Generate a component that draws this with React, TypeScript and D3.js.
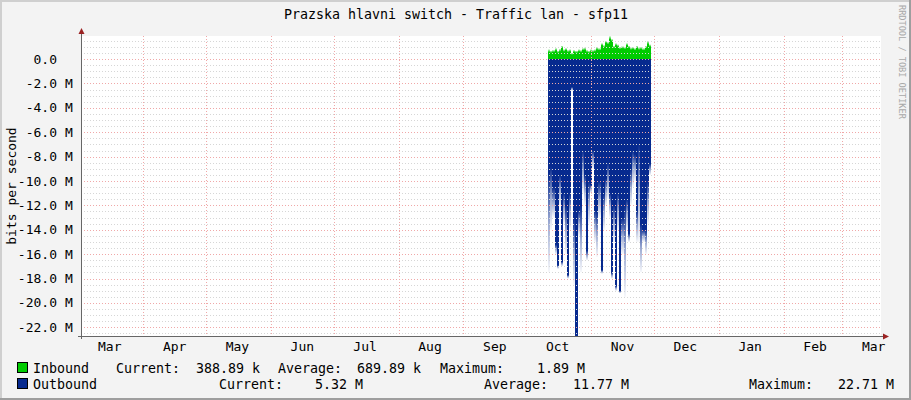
import React from 'react';
import * as d3 from 'd3';

const WIDTH = 911;
const HEIGHT = 400;

const title = 'Prazska hlavni switch - Traffic lan - sfp11';
const yAxisTitle = 'bits per second';
const watermark = 'RRDTOOL / TOBI OETIKER';

const monthLabels = ['Mar', 'Apr', 'May', 'Jun', 'Jul', 'Aug', 'Sep', 'Oct', 'Nov', 'Dec', 'Jan', 'Feb', 'Mar'];
const yTickValues = [0, -2, -4, -6, -8, -10, -12, -14, -16, -18, -20, -22];
const yTickNumbers = ['0.0', '-2.0', '-4.0', '-6.0', '-8.0', '-10.0', '-12.0', '-14.0', '-16.0', '-18.0', '-20.0', '-22.0'];
const yTickUnits = ['', 'M', 'M', 'M', 'M', 'M', 'M', 'M', 'M', 'M', 'M', 'M'];

// daily samples starting Oct 11 (values in Mbit/s)
const firstDay = new Date(2022, 9, 11, 12);
const inboundAvg = [
  0.55, 0.5, 0.55, 0.68, 0.5, 0.6, 0.9, 0.6, 0.7, 0.55,
  0.6, 0.35, 0.55, 0.5, 0.6, 0.55, 0.7, 0.72, 0.55, 0.5,
  0.6, 0.55, 0.6, 0.75, 0.7, 1.1, 0.95, 1.3, 1.2, 1.6,
  1.45, 0.9, 1.1, 1.0, 0.8, 0.85, 0.8, 1.1, 0.9, 0.75,
  0.8, 0.7, 0.9, 0.75, 0.8, 0.7, 0.9, 1.2, 1.0,
];
const inboundMax = [
  0.8, 0.7, 0.75, 0.9, 0.7, 0.85, 1.1, 0.8, 0.9, 0.75,
  0.8, 0.5, 0.75, 0.7, 0.8, 0.75, 0.9, 0.95, 0.75, 0.7,
  0.8, 0.75, 0.8, 1.0, 0.9, 1.3, 1.15, 1.5, 1.4, 1.89,
  1.65, 1.1, 1.3, 1.2, 1.0, 1.05, 1.0, 1.3, 1.1, 0.95,
  1.0, 0.9, 1.1, 0.95, 1.0, 0.9, 1.1, 1.5, 1.2,
];
const outboundAvg = [
  9.3, 8.8, 10.5, 15.2, 16.9, 9.5, 16.6, 11.0, 12.0, 17.7,
  11.0, 2.3, 13.0, 22.71, 12.4, 12.0, 7.5, 9.5, 15.7, 10.0,
  10.3, 7.5, 12.4, 12.5, 10.0, 17.3, 11.0, 9.8, 8.5, 11.0,
  17.5, 12.0, 18.6, 11.0, 19.0, 13.0, 12.0, 11.5, 14.3, 9.0,
  7.5, 7.8, 12.4, 6.9, 13.5, 14.0, 14.0, 10.0, 8.6,
];
const outboundMax = [
  17.5, 14.0, 13.0, 16.0, 17.2, 12.0, 17.0, 13.5, 16.0, 18.0,
  14.0, 2.6, 18.5, 22.71, 14.5, 17.5, 11.0, 12.0, 16.5, 13.5,
  11.0, 9.0, 15.0, 16.2, 13.0, 17.6, 14.0, 12.0, 11.5, 13.0,
  18.0, 15.0, 19.0, 14.0, 19.2, 16.0, 19.5, 14.0, 15.0, 12.0,
  10.5, 10.0, 15.0, 15.0, 17.5, 15.0, 16.0, 13.5, 9.5,
];

const inboundLegend = ['Inbound', 'Current:', '388.89 k', 'Average:', '689.89 k', 'Maximum:', '1.89 M'];
const outboundLegend = ['Outbound', 'Current:', '5.32 M', 'Average:', '11.77 M', 'Maximum:', '22.71 M'];

const GREEN = '#00CC00';
const BLUE = '#072A8F';
const FONT = '"DejaVu Sans Mono", monospace';

export default function App() {
  const left = 81, right = 881, top = 36, bottom = 336;
  const x = d3.scaleTime()
    .domain([new Date(2022, 2, 2, 6), new Date(2023, 2, 19, 12)])
    .range([left, right]);
  const y = d3.scaleLinear().domain([-22.71, 1.89]).range([bottom, top]);

  const monthLines = d3.timeMonth.range(new Date(2022, 3, 1), new Date(2023, 2, 2));
  const labelMonths = d3.timeMonth.range(new Date(2022, 2, 1), new Date(2023, 2, 2));
  const minor = d3.range(-45, 4).map(k => k * 0.5).filter(v => v % 2 !== 0 && v > -22.71 && v < 1.89);

  const days = outboundAvg.map((_, i) => d3.timeDay.offset(firstDay, i));
  const cols = days.map((d, i) => ({
    x0: x(d),
    x1: x(d3.timeDay.offset(d, 1)),
    inA: inboundAvg[i], inM: inboundMax[i],
    outA: outboundAvg[i], outM: outboundMax[i],
  }));

  const inPos = [33, 116, 196, 278, 357, 440, 537];
  const outPos = [33, 219, 315, 484, 573, 749, 838];

  return (
    <svg width={WIDTH} height={HEIGHT} style={{ position: 'absolute', left: 0, top: 0, display: 'block' }}
      fontFamily={FONT}>
      <defs>
        {cols.map((c, i) => (
          <linearGradient key={'go' + i} id={'go' + i} gradientUnits="userSpaceOnUse"
            x1={0} x2={0} y1={y(-c.outA)} y2={y(-c.outM)}>
            <stop offset="0" stopColor={BLUE} stopOpacity={1} />
            <stop offset="0.5" stopColor={BLUE} stopOpacity={0.4} />
            <stop offset="1" stopColor={BLUE} stopOpacity={0.03} />
          </linearGradient>
        ))}
        {cols.map((c, i) => (
          <linearGradient key={'gi' + i} id={'gi' + i} gradientUnits="userSpaceOnUse"
            x1={0} x2={0} y1={y(c.inA)} y2={y(c.inM)}>
            <stop offset="0" stopColor={GREEN} stopOpacity={1} />
            <stop offset="1" stopColor={GREEN} stopOpacity={0.1} />
          </linearGradient>
        ))}
      </defs>

      {/* background & frame */}
      <rect x={0} y={0} width={WIDTH} height={HEIGHT} fill="#F3F3F3" />
      <rect x={0} y={0} width={WIDTH} height={2} fill="#CFCFCF" />
      <rect x={0} y={0} width={2} height={HEIGHT} fill="#CFCFCF" />
      <rect x={0} y={HEIGHT - 2} width={WIDTH} height={2} fill="#9E9E9E" />
      <rect x={WIDTH - 2} y={0} width={2} height={HEIGHT} fill="#9E9E9E" />

      {/* canvas */}
      <rect x={left} y={top} width={right - left} height={bottom - top} fill="#FFFFFF" />

      {/* data */}
      <g shapeRendering="crispEdges">
        {cols.map((c, i) => (
          <g key={'c' + i}>
            {c.outM > c.outA + 0.01 && (
              <rect x={c.x0} width={c.x1 - c.x0} y={y(0)} height={y(-c.outM) - y(0)} fill={`url(#go${i})`} />
            )}
            <rect x={c.x0} width={c.x1 - c.x0} y={y(0)} height={y(-c.outA) - y(0)} fill={BLUE} />
            {c.inM > c.inA + 0.01 && (
              <rect x={c.x0} width={c.x1 - c.x0} y={y(c.inM)} height={y(0) - y(c.inM)} fill={`url(#gi${i})`} />
            )}
            <rect x={c.x0} width={c.x1 - c.x0} y={y(c.inA)} height={y(0) - y(c.inA)} fill={GREEN} />
          </g>
        ))}
      </g>

      {/* grid */}
      <g shapeRendering="crispEdges">
        {minor.map(v => (
          <line key={'mn' + v} x1={left} x2={right} y1={Math.round(y(v)) + 0.5} y2={Math.round(y(v)) + 0.5}
            stroke="#D6D6D6" strokeDasharray="1,2" />
        ))}
        {yTickValues.map(v => (
          <line key={'mj' + v} x1={left} x2={right} y1={Math.round(y(v)) + 0.5} y2={Math.round(y(v)) + 0.5}
            stroke="#F0A8A8" strokeDasharray="1,2" />
        ))}
        {monthLines.map(d => (
          <line key={'ml' + d.getTime()} x1={Math.round(x(d)) + 0.5} x2={Math.round(x(d)) + 0.5} y1={top} y2={bottom + 3}
            stroke="#F0A8A8" strokeDasharray="1,2" />
        ))}
      </g>

      {/* axes */}
      <g shapeRendering="crispEdges">
        <line x1={left + 0.5} x2={left + 0.5} y1={bottom + 3} y2={31} stroke="#666666" />
        <line x1={left - 3} x2={884} y1={bottom + 0.5} y2={bottom + 0.5} stroke="#666666" />
      </g>
      <path d={`M${left - 2.5},34 L${left + 3.5},34 L${left + 0.5},28 Z`} fill="#9B2323" />
      <path d={`M883,${bottom - 2.5} L883,${bottom + 3.5} L889,${bottom + 0.5} Z`} fill="#9B2323" />

      {/* y labels */}
      <g fontSize={13} fill="#000">
        {yTickValues.map((v, i) => (
          <g key={'yl' + v}>
            <text x={57} y={y(v) + 4.5} textAnchor="end">{yTickNumbers[i]}</text>
            {yTickUnits[i] && <text x={65} y={y(v) + 4.5}>{yTickUnits[i]}</text>}
          </g>
        ))}
      </g>

      {/* x labels */}
      <g fontSize={13} fill="#000" textAnchor="middle">
        {labelMonths.map((d, i) => (
          <text key={'xl' + i} x={x(d3.timeDay.offset(d, 15))} y={351}>{monthLabels[i]}</text>
        ))}
      </g>

      {/* titles */}
      <text x={456} y={18.5} textAnchor="middle" fontSize={13.3} fill="#000">{title}</text>
      <text transform={`translate(15.5, ${(top + bottom) / 2}) rotate(-90)`} textAnchor="middle" fontSize={13} fill="#000">{yAxisTitle}</text>
      <text transform="translate(899, 5) rotate(90)" fontSize={8.6} fill="#A8A8A8">{watermark}</text>

      {/* legend */}
      <rect x={17.5} y={362.5} width={10} height={10} fill={GREEN} stroke="#000" />
      <rect x={17.5} y={378.5} width={10} height={10} fill={BLUE} stroke="#000" />
      <g fontSize={13.3} fill="#000">
        {inboundLegend.map((t, i) => (
          <text key={'li' + i} x={inPos[i]} y={373} style={{ whiteSpace: 'pre' }}>{t}</text>
        ))}
        {outboundLegend.map((t, i) => (
          <text key={'lo' + i} x={outPos[i]} y={389} style={{ whiteSpace: 'pre' }}>{t}</text>
        ))}
      </g>
    </svg>
  );
}
